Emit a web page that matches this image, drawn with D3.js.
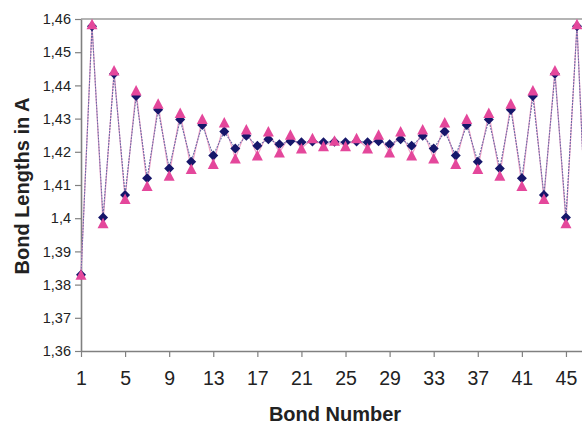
<!DOCTYPE html>
<html>
<head>
<meta charset="utf-8">
<script src="https://cdn.jsdelivr.net/npm/d3@7"></script>
<style>
  html, body { margin: 0; padding: 0; background: #fff; }
  svg { display: block; }
  text { font-family: "Liberation Sans", Arial, sans-serif; fill: #222; }
</style>
</head>
<body>
<div id="chart"></div>
<script>
// ---- data ----
const bondNumbers = [1,2,3,4,5,6,7,8,9,10,11,12,13,14,15,16,17,18,19,20,21,22,23,24,
  25,26,27,28,29,30,31,32,33,34,35,36,37,38,39,40,41,42,43,44,45,46,47];
const seriesDiamond = [1.383, 1.4578, 1.4002, 1.4435, 1.407, 1.4368, 1.412, 1.4327, 1.415, 1.4297,
  1.417, 1.4281, 1.4189, 1.4261, 1.421, 1.4248, 1.4218, 1.4238, 1.4223, 1.4232,
  1.4229, 1.4231, 1.4229, 1.4230, 1.4229, 1.4231, 1.4229, 1.4232, 1.4223, 1.4238,
  1.4218, 1.4248, 1.421, 1.4261, 1.4189, 1.4281, 1.417, 1.4297, 1.415, 1.4327,
  1.412, 1.4368, 1.407, 1.4435, 1.4002, 1.4578, 1.383];
const seriesTriangle = [1.383, 1.4584, 1.3985, 1.4445, 1.4058, 1.4385, 1.4097, 1.4345, 1.4128, 1.4317,
  1.4148, 1.4299, 1.4163, 1.4288, 1.418, 1.4267, 1.4189, 1.4261, 1.4198, 1.4251,
  1.421, 1.4241, 1.4217, 1.4233, 1.4217, 1.4241, 1.421, 1.4251, 1.4198, 1.4261,
  1.4189, 1.4267, 1.418, 1.4288, 1.4163, 1.4299, 1.4148, 1.4317, 1.4128, 1.4345,
  1.4097, 1.4385, 1.4058, 1.4445, 1.3985, 1.4584, 1.383];
const xTickValues = [1,5,9,13,17,21,25,29,33,37,41,45];
const yTickValues = [1.36,1.37,1.38,1.39,1.40,1.41,1.42,1.43,1.44,1.45,1.46];
const yTickLabels = ["1,36","1,37","1,38","1,39","1,4","1,41","1,42","1,43","1,44","1,45","1,46"];
const xTitle = "Bond Number";
const yTitle = "Bond Lengths in A";

// ---- layout ----
const W = 582, H = 426;
const plotLeft = 81, plotTop = 19, plotBottom = 351, plotRight = 588;

const svg = d3.select("#chart").append("svg")
  .attr("width", W).attr("height", H);

const x = d3.scaleLinear().domain([1, 47]).range([plotLeft, plotRight]);
const y = d3.scaleLinear().domain([1.36, 1.46]).range([plotBottom, plotTop]);

// plot area top border
svg.append("line")
  .attr("x1", plotLeft).attr("x2", plotRight)
  .attr("y1", y(1.46)).attr("y2", y(1.46))
  .attr("stroke", "#b4b4b4").attr("stroke-width", 2);

// y axis
const yAxis = svg.append("g")
  .attr("transform", `translate(${plotLeft},0)`)
  .call(d3.axisLeft(y).tickValues(yTickValues)
    .tickFormat((d, i) => yTickLabels[i]).tickSize(6).tickSizeOuter(0).tickPadding(4));
yAxis.select(".domain").attr("stroke", "#808080").attr("stroke-width", 1.6);
yAxis.selectAll(".tick line").attr("stroke", "#808080").attr("stroke-width", 1.2);
yAxis.selectAll(".tick text").attr("font-size", 14.5).attr("fill", "#222")
  .style("font-family", "'Liberation Sans', Arial, sans-serif");

// x axis
const xAxis = svg.append("g")
  .attr("transform", `translate(0,${plotBottom})`)
  .call(d3.axisBottom(x).tickValues(xTickValues).tickSize(6).tickSizeOuter(0).tickPadding(14));
xAxis.select(".domain").attr("stroke", "#808080").attr("stroke-width", 1.6);
xAxis.selectAll(".tick line").attr("stroke", "#808080").attr("stroke-width", 1.2);
xAxis.selectAll(".tick text").attr("font-size", 19.5).attr("fill", "#222")
  .style("font-family", "'Liberation Sans', Arial, sans-serif");

// lines
const lineGen = d3.line().x((d, i) => x(bondNumbers[i])).y(d => y(d));
svg.append("path").datum(seriesTriangle)
  .attr("d", lineGen).attr("fill", "none")
  .attr("stroke", "#f0a3c9").attr("stroke-width", 1.2);
svg.append("path").datum(seriesDiamond)
  .attr("d", lineGen).attr("fill", "none")
  .attr("stroke", "#6a6aa6").attr("stroke-width", 1.1).attr("stroke-dasharray", "2,1");

// diamond markers
svg.append("g").selectAll("path").data(seriesDiamond).join("path")
  .attr("transform", (d, i) => `translate(${x(bondNumbers[i])},${y(d)})`)
  .attr("d", "M0,-5 L5,0 L0,5 L-5,0 Z")
  .attr("fill", "#16166a");

// triangle markers
svg.append("g").selectAll("path").data(seriesTriangle).join("path")
  .attr("transform", (d, i) => `translate(${x(bondNumbers[i])},${y(d)})`)
  .attr("d", "M0,-5.5 L5.5,5 L-5.5,5 Z")
  .attr("fill", "#e4479b");

// titles
svg.append("text")
  .attr("x", 335).attr("y", 421)
  .attr("text-anchor", "middle")
  .attr("font-size", 20).attr("font-weight", "bold")
  .text(xTitle);
svg.append("text")
  .attr("transform", `translate(29,186) rotate(-90)`)
  .attr("text-anchor", "middle")
  .attr("font-size", 20).attr("font-weight", "bold")
  .text(yTitle);
</script>
</body>
</html>
